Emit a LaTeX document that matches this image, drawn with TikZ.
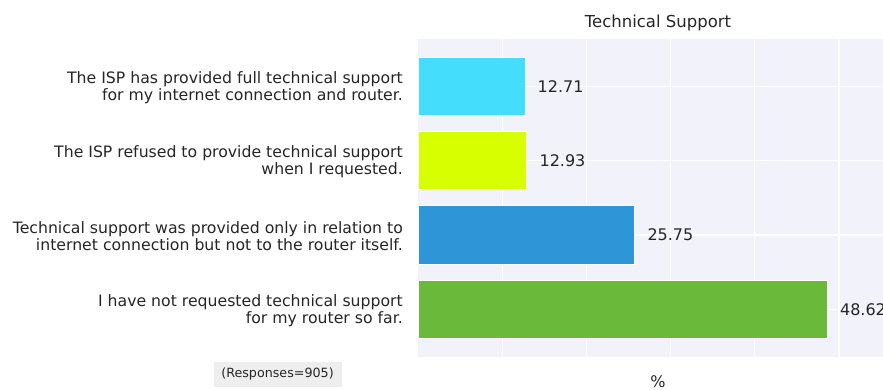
\documentclass[tikz,border=0pt]{standalone}
\usepackage{fontspec}
\setmainfont{DejaVu Sans}
\definecolor{plotbg}{HTML}{F1F2FA}
\definecolor{txt}{HTML}{262626}
\definecolor{cA}{HTML}{44DDFB}
\definecolor{cB}{HTML}{D7FF00}
\definecolor{cC}{HTML}{2E96D6}
\definecolor{cD}{HTML}{6AB93B}
\definecolor{boxgray}{HTML}{EEEEEE}
\tikzset{
  catlabel/.style={anchor=east, align=right, inner sep=0pt, text=txt, font=\fontsize{15.7}{17}\selectfont},
  vallabel/.style={anchor=west, inner sep=0pt, text=txt, font=\fontsize{16}{19}\selectfont},
  barbox/.style={draw=white, line width=0.8pt},
  gridline/.style={draw=white, line width=1.3pt},
}
\begin{document}
\begin{tikzpicture}[x=1pt, y=-1pt]
\clip (0,0) rectangle (883,390);
\useasboundingbox (0,0) rectangle (883,390);
\fill[white] (0,0) rectangle (883,390);
% plot area
\fill[plotbg] (418,39) rectangle (898,357);
\foreach \g in {1,...,5} {
  \draw[gridline] ({418+84.2*\g},39) -- ({418+84.2*\g},357);
}
\foreach \c in {86.3,160.6,234.9,309.2} {
  \draw[gridline] (418,\c) -- (898,\c);
}
% bars
\path[barbox, fill=cA] (418,57.3) rectangle ({418+8.42*12.71},115.3);
\path[barbox, fill=cB] (418,131.6) rectangle ({418+8.42*12.93},189.6);
\path[barbox, fill=cC] (418,205.9) rectangle ({418+8.42*25.75},263.9);
\path[barbox, fill=cD] (418,280.2) rectangle ({418+8.42*48.62},338.2);
% value labels
\node[vallabel] (v1) at ({418+8.42*12.71+12.5},86.3) {12.71};
\node[vallabel] (v2) at ({418+8.42*12.93+12.5},160.6) {12.93};
\node[vallabel] (v3) at ({418+8.42*25.75+12.5},234.9) {25.75};
\node[vallabel] (v4) at ({418+8.42*48.62+12.5},309.2) {48.62};
% category labels
\node[catlabel] (l1) at (403,88) {The ISP has provided full technical support\\for my internet connection and router.};
\node[catlabel] (l2) at (403,162) {The ISP refused to provide technical support\\when I requested.};
\node[catlabel] (l3) at (403,236) {Technical support was provided only in relation to\\internet connection but not to the router itself.};
\node[catlabel] (l4) at (403,311) {I have not requested technical support\\for my router so far.};
% title and axis label
\node[inner sep=0pt, text=txt, font=\fontsize{16.5}{19}\selectfont] (title) at (658,23) {Technical Support};
\node[inner sep=0pt, text=txt, font=\fontsize{16}{19}\selectfont] (xlab) at (658,382) {\%};
% responses box
\node[fill=boxgray, text=txt, font=\fontsize{12.7}{15}\selectfont, minimum width=128pt, minimum height=25pt, inner sep=0pt] (resp) at (277.5,374) {(Responses=905)};
\end{tikzpicture}
\end{document}
